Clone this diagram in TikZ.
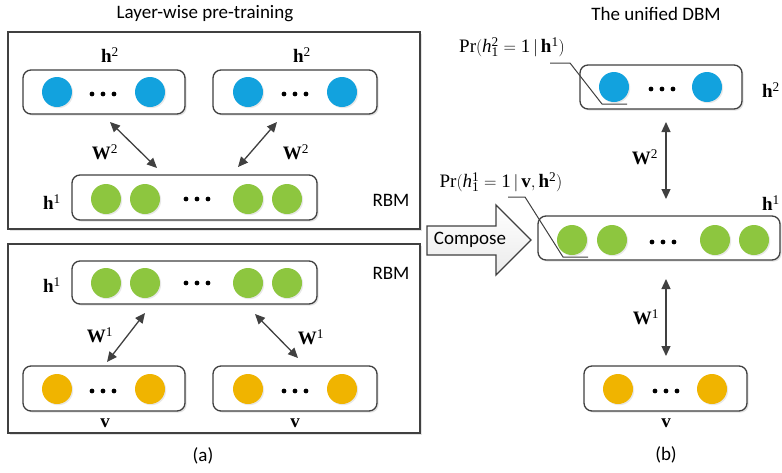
\documentclass[tikz,border=0pt]{standalone}
\usepackage{fontspec}
\setmainfont{Liberation Serif}
\newfontfamily\sansf{Carlito}
\usetikzlibrary{arrows.meta,calc,shadows}
\definecolor{cblue}{HTML}{12A2DE}
\definecolor{cgreen}{HTML}{8DC63F}
\definecolor{corange}{HTML}{F0B400}
\definecolor{lc}{HTML}{404040}
\newcommand\threedots[2]{\fill[black] (#1-11,#2) circle (2.4) (#1,#2) circle (2.4) (#1+11,#2) circle (2.4);}
\begin{document}
\begin{tikzpicture}[x=1pt,y=-1pt,
  shad/.style={drop shadow={opacity=0.22, shadow xshift=1.6pt, shadow yshift=-1.6pt}},
  outerbox/.style={draw=lc, line width=1.5pt, fill=white, shad},
  layer/.style={draw=lc, line width=1.3pt, rounded corners=8pt, inner sep=0pt, fill=white, shad},
  unit/.style={circle, minimum size=30pt, inner sep=0pt, drop shadow={opacity=0.18, shadow xshift=1.2pt, shadow yshift=-1.2pt}},
  bunit/.style={unit, fill=cblue},
  gunit/.style={unit, fill=cgreen},
  ounit/.style={unit, fill=corange},
  conn/.style={draw=lc, line width=1.3pt, {Triangle[length=10pt,width=9pt]}-{Triangle[length=10pt,width=9pt]}},
  lead/.style={draw=lc, line width=1pt},
  mlab/.style={inner sep=0pt, font=\fontsize{19}{21}\selectfont},
  slab/.style={inner sep=0pt, font=\sansf\fontsize{19}{22}\selectfont}]
\useasboundingbox (0,0) rectangle (782,472);

% ---------------- (a) ----------------
\node[slab] (titleA) at (205,14) {Layer-wise pre-training};
\node[outerbox, minimum width=412pt, minimum height=197pt, inner sep=0pt] (outerA) at (214,130.5) {};
\node[outerbox, minimum width=412pt, minimum height=189pt, inner sep=0pt] (outerB) at (214,338.5) {};

% top RBM
\node[layer, minimum width=162pt, minimum height=44pt] (h2a) at (104,92) {};
\node[layer, minimum width=164pt, minimum height=44pt] (h2b) at (295,92) {};
\node[bunit] (h2a1) at (57,92) {};
\node[bunit] (h2a2) at (150,92) {};
\threedots{103}{94}
\node[bunit] (h2b1) at (248,92) {};
\node[bunit] (h2b2) at (342,92) {};
\threedots{295}{94}
\node[mlab] (lh2a) at (110,55) {$\mathbf{h}^{\mathrm{2}}$};
\node[mlab] (lh2b) at (302,55) {$\mathbf{h}^{\mathrm{2}}$};

\node[layer, minimum width=245pt, minimum height=45pt] (h1t) at (194.5,197.5) {};
\node[gunit] (h1t1) at (106,199) {};
\node[gunit] (h1t2) at (145,199) {};
\node[gunit] (h1t3) at (248,199) {};
\node[gunit] (h1t4) at (287,199) {};
\threedots{197}{199}
\node[mlab] (lh1t) at (52,202) {$\mathbf{h}^{\mathrm{1}}$};
\node[slab] (rbm1) at (391,200) {RBM};

\coordinate (a1s) at (110,122); \coordinate (a1e) at (157,168);
\coordinate (a2s) at (277,122); \coordinate (a2e) at (238,167);
\draw[conn] (a1s) -- (a1e);
\draw[conn] (a2s) -- (a2e);
\node[mlab] (lw2a) at (105,152) {$\mathbf{W}^{\mathrm{2}}$};
\node[mlab] (lw2b) at (296,152) {$\mathbf{W}^{\mathrm{2}}$};

% bottom RBM
\node[layer, minimum width=245pt, minimum height=43pt] (h1b) at (194.5,282.5) {};
\node[gunit] (h1b1) at (106,283) {};
\node[gunit] (h1b2) at (145,283) {};
\node[gunit] (h1b3) at (248,283) {};
\node[gunit] (h1b4) at (287,283) {};
\threedots{197}{283}
\node[mlab] (lh1b) at (52,285) {$\mathbf{h}^{\mathrm{1}}$};
\node[slab] (rbm2) at (391,273) {RBM};

\node[layer, minimum width=162pt, minimum height=45pt] (va) at (104,388.5) {};
\node[layer, minimum width=164pt, minimum height=45pt] (vb) at (295,388.5) {};
\node[ounit] (va1) at (57,389) {};
\node[ounit] (va2) at (150,389) {};
\threedots{103}{391}
\node[ounit] (vb1) at (248,389) {};
\node[ounit] (vb2) at (342,389) {};
\threedots{295}{391}
\node[mlab] (lva) at (105,423) {$\mathbf{v}$};
\node[mlab] (lvb) at (295,423) {$\mathbf{v}$};

\coordinate (b1s) at (145,313); \coordinate (b1e) at (107,362);
\coordinate (b2s) at (255,314); \coordinate (b2e) at (298,358);
\draw[conn] (b1s) -- (b1e);
\draw[conn] (b2s) -- (b2e);
\node[mlab] (lw1a) at (100,335) {$\mathbf{W}^{\mathrm{1}}$};
\node[mlab] (lw1b) at (311,337) {$\mathbf{W}^{\mathrm{1}}$};

\node[slab] (capA) at (203,456) {(a)};

% ---------------- Compose ----------------
\shade[top color=white, bottom color=black!8, draw=lc, line width=1.3pt, line join=miter]
  (427,226) -- (496,226) -- (496,205) -- (531,240) -- (496,275) -- (496,255) -- (427,255) -- cycle;
\node[slab] (compose) at (470,240) {Compose};

% ---------------- (b) ----------------
\node[slab] (titleB) at (656,14) {The unified DBM};

\node[layer, minimum width=162pt, minimum height=44pt] (H2) at (661,87) {};
\node[bunit] (H21) at (614,87) {};
\node[bunit] (H22) at (707,87) {};
\threedots{662}{89}
\node[mlab] (lH2) at (771,90) {$\mathbf{h}^{\mathrm{2}}$};

\node[mlab] (pr2) at (512,47) {$\mathrm{Pr(}\mathit{h}_{\mathrm{1}}^{\mathrm{2}}=\mathrm{1}\,|\,\mathbf{h}^{\mathrm{1}}\mathrm{)}$};
\coordinate (l1a) at (550,63); \coordinate (l1b) at (570,63);
\coordinate (l1c) at (602,104); \coordinate (l1d) at (627,104);
\draw[lead] (l1a) -- (l1b) -- (l1c) -- (l1d);

\coordinate (c2s) at (666,122); \coordinate (c2e) at (666,199);
\draw[conn] (c2s) -- (c2e);
\node[mlab] (lW2) at (645,157) {$\mathbf{W}^{\mathrm{2}}$};

\node[mlab] (pr1) at (501,182) {$\mathrm{Pr(}\mathit{h}_{\mathrm{1}}^{\mathrm{1}}=\mathrm{1}\,|\,\mathbf{v},\mathbf{h}^{\mathrm{2}}\mathrm{)}$};
\node[mlab] (lH1) at (771,203) {$\mathbf{h}^{\mathrm{1}}$};

\node[layer, minimum width=242pt, minimum height=44pt] (H1) at (659,238) {};
\node[gunit] (H11) at (572,240) {};
\node[gunit] (H12) at (612,240) {};
\node[gunit] (H13) at (715,240) {};
\node[gunit] (H14) at (754,240) {};
\threedots{663}{242}
\coordinate (l2a) at (508,197); \coordinate (l2b) at (525,197);
\coordinate (l2c) at (563,257); \coordinate (l2d) at (588,257);
\draw[lead] (l2a) -- (l2b) -- (l2c) -- (l2d);

\coordinate (c1s) at (666,279); \coordinate (c1e) at (666,356);
\draw[conn] (c1s) -- (c1e);
\node[mlab] (lW1) at (646,317) {$\mathbf{W}^{\mathrm{1}}$};

\node[layer, minimum width=163pt, minimum height=45pt] (V) at (665.5,388.5) {};
\node[ounit] (V1) at (618,389) {};
\node[ounit] (V2) at (712,389) {};
\threedots{666}{391}
\node[mlab] (lV) at (666,423) {$\mathbf{v}$};

\node[slab] (capB) at (666,455) {(b)};
\end{tikzpicture}
\end{document}
